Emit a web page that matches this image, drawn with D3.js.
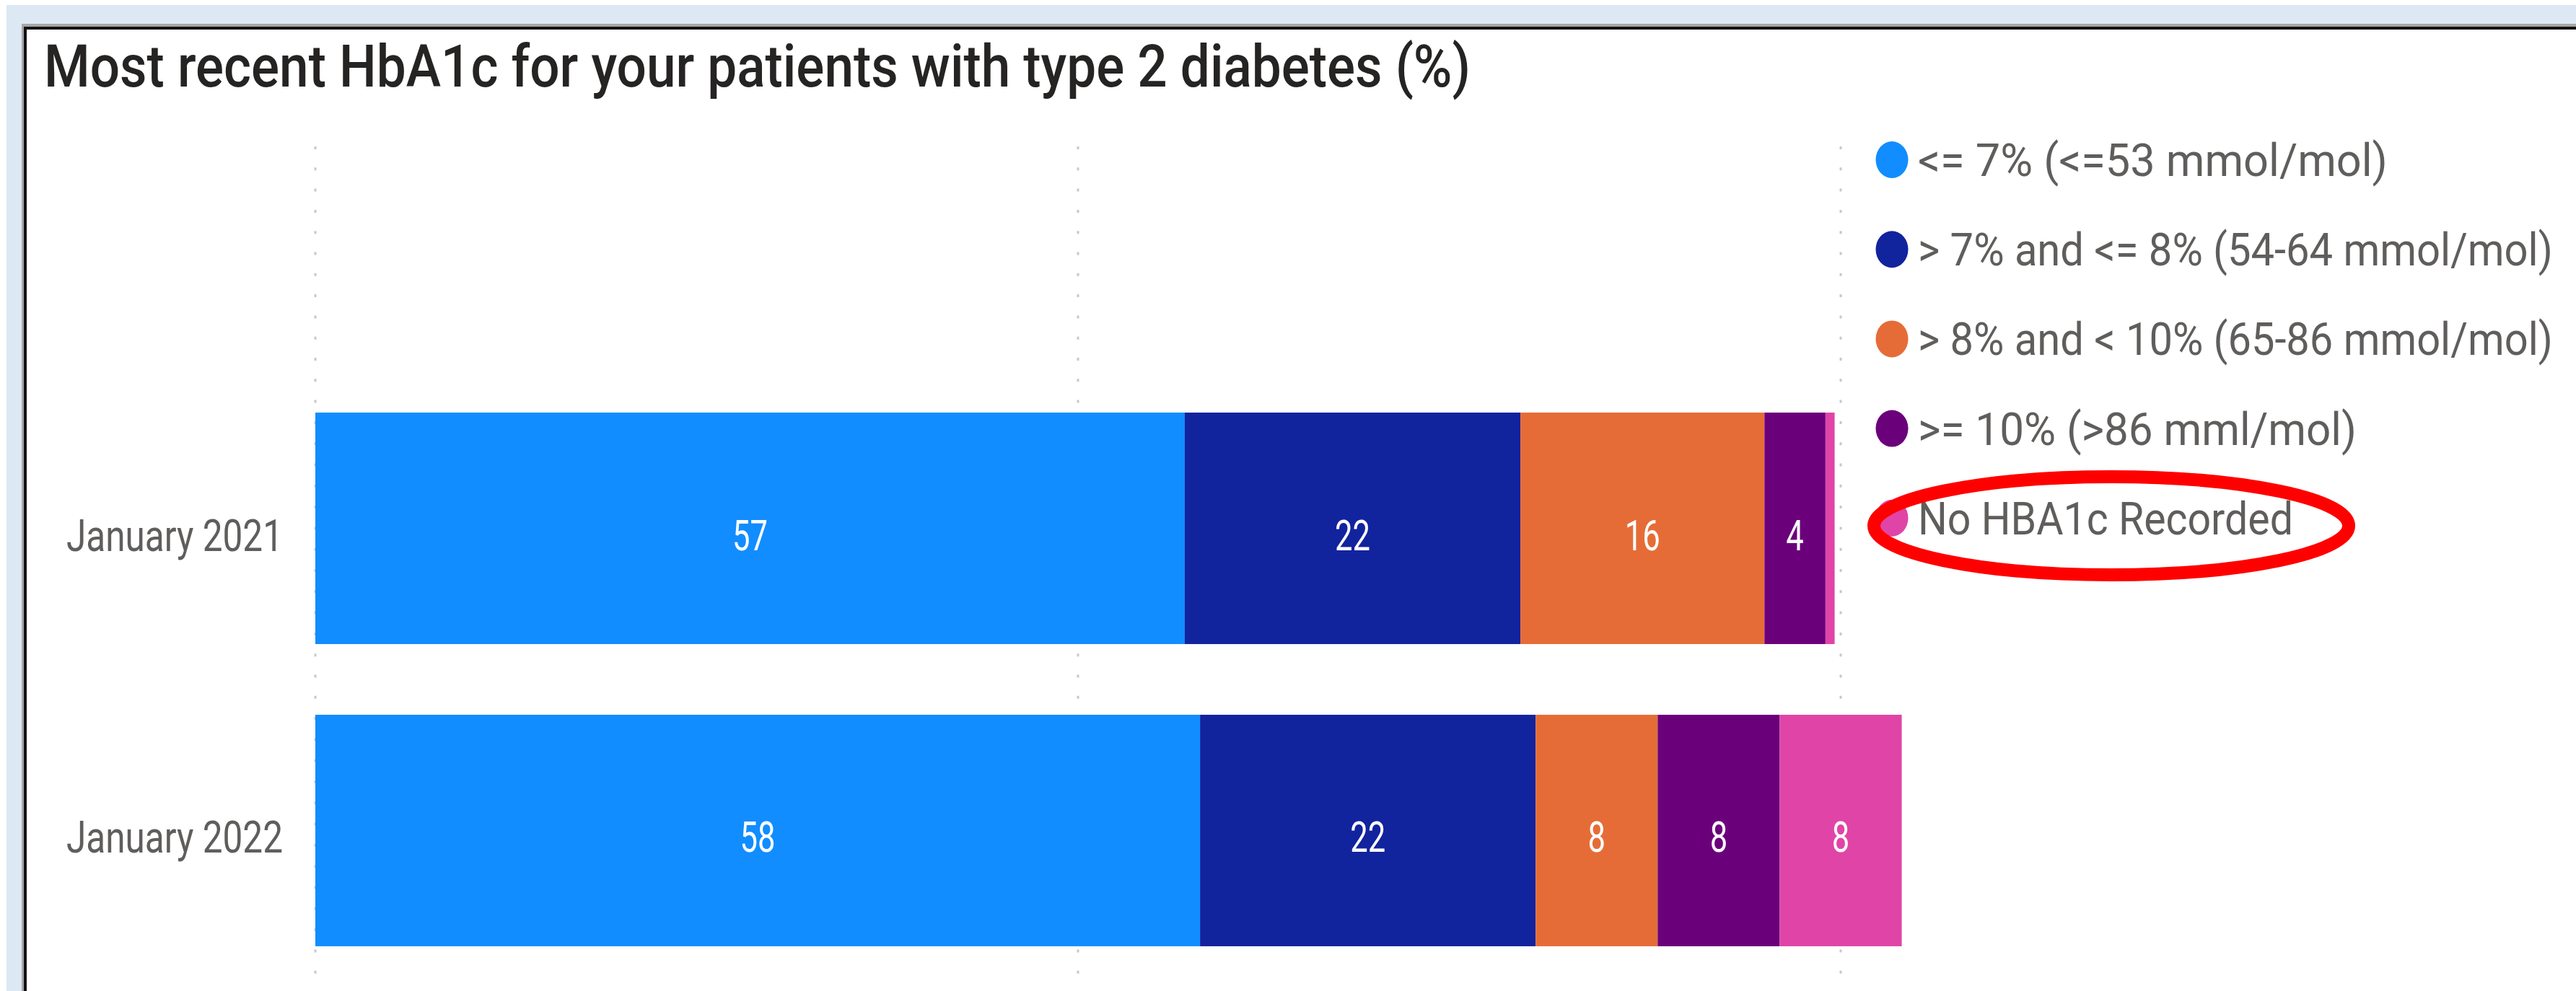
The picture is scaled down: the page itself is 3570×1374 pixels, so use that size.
<!DOCTYPE html>
<html>
<head>
<meta charset="utf-8">
<script src="https://cdn.jsdelivr.net/npm/d3@7"></script>
<style>
  html, body { margin: 0; padding: 0; background: #ffffff; }
  svg { display: block; }
  text { font-family: Roboto, "Liberation Sans", "DejaVu Sans", sans-serif; }
</style>
</head>
<body>
<svg id="chart" width="3570" height="1374"></svg>
<script>
// ---- data ----
const categories = ["January 2021", "January 2022"];
const seriesNames = [
  "<= 7% (<=53 mmol/mol)",
  "> 7% and <= 8% (54-64 mmol/mol)",
  "> 8% and < 10% (65-86 mmol/mol)",
  ">= 10% (>86 mml/mol)",
  "No HBA1c Recorded"
];
const upTo7 = [57, 58];
const from7to8 = [22, 22];
const from8to10 = [16, 8];
const atLeast10 = [4, 8];
const notRecorded = [0.6, 8];
const gridTicks = [0, 50, 100];
const titleText = "Most recent HbA1c for your patients with type 2 diabetes (%)";

const palette = ["#118DFF", "#12239E", "#E66C37", "#6B007B", "#E044A7"];
// rendered widths of the legend entries (px)
const legendWidths = [651, 880, 880, 608, 520];

// ---- table for the stack layout ----
const seriesValues = [upTo7, from7to8, from8to10, atLeast10, notRecorded];
const rows = categories.map((c, i) => {
  const r = { category: c };
  seriesNames.forEach((s, k) => { r[s] = seriesValues[k][i]; });
  return r;
});
const stacked = d3.stack().keys(seriesNames)(rows);

const svg = d3.select("#chart");
const W = 3570, H = 1374;

// ---- visual container frame ----
svg.append("rect").attr("x", 9).attr("y", 7).attr("width", W).attr("height", H).attr("fill", "#DCE8F3");
svg.append("rect").attr("x", 30).attr("y", 33).attr("width", W).attr("height", H).attr("fill", "#A6A6A6");
svg.append("rect").attr("x", 33).attr("y", 37).attr("width", W).attr("height", H).attr("fill", "#111111");
svg.append("rect").attr("x", 37).attr("y", 41).attr("width", W).attr("height", H).attr("fill", "#ffffff");

// helper: condense text horizontally by a common factor
function condense(sel, refWidth) {
  const nodes = sel.nodes();
  const factor = refWidth / nodes[0].getComputedTextLength();
  sel.each(function () {
    const w = this.getComputedTextLength();
    d3.select(this).attr("textLength", w * factor).attr("lengthAdjust", "spacingAndGlyphs");
  });
}

// ---- title ----
const title = svg.append("text")
  .attr("x", 61).attr("y", 120)
  .attr("font-size", 81)
  .attr("font-weight", 500)
  .attr("fill", "#252423")
  .text(titleText);
condense(title, 1977);

// ---- scales ----
const x = d3.scaleLinear().domain([0, 100]).range([437, 2551]);
const y = d3.scaleBand().domain(categories).range([474, 1410]).paddingInner(0.234).paddingOuter(0.234);
const color = d3.scaleOrdinal().domain(seriesNames).range(palette);

// ---- dotted gridlines ----
svg.append("g").selectAll("line")
  .data(gridTicks)
  .join("line")
  .attr("x1", d => x(d)).attr("x2", d => x(d))
  .attr("y1", 203).attr("y2", H)
  .attr("stroke", "#C8C8C8")
  .attr("stroke-width", 3)
  .attr("stroke-dasharray", "4 25.3");

// ---- stacked bars ----
const layers = svg.append("g").selectAll("g")
  .data(stacked)
  .join("g")
  .attr("fill", d => color(d.key));

layers.selectAll("rect")
  .data(d => d)
  .join("rect")
  .attr("x", d => x(d[0]))
  .attr("y", d => y(d.data.category))
  .attr("width", d => x(d[1]) - x(d[0]))
  .attr("height", y.bandwidth());

// ---- data labels ----
const labelData = [];
stacked.forEach(layer => {
  layer.forEach(seg => {
    const v = seg.data[layer.key];
    if (v >= 2) labelData.push({ v, cx: (x(seg[0]) + x(seg[1])) / 2, cat: seg.data.category });
  });
});
const labels = svg.append("g").selectAll("text")
  .data(labelData)
  .join("text")
  .attr("x", d => d.cx)
  .attr("y", d => y(d.cat) + y.bandwidth() / 2 + 30)
  .attr("text-anchor", "middle")
  .attr("font-size", 59)
  .attr("fill", "#ffffff")
  .text(d => d3.format("d")(d.v));
condense(labels, 49);

// ---- category axis ----
const yAxisG = svg.append("g")
  .attr("transform", `translate(${x(0)},0)`)
  .call(d3.axisLeft(y).tickSize(0).tickPadding(45));
yAxisG.select(".domain").remove();
const yTickText = yAxisG.selectAll("text")
  .attr("font-size", 62)
  .attr("font-family", null)
  .attr("fill", "#605E5C")
  .attr("dy", "0.5em");
condense(yTickText, 300);

// ---- legend ----
const legend = svg.append("g").selectAll("g")
  .data(seriesNames)
  .join("g")
  .attr("transform", (d, i) => `translate(2622,${221.5 + i * 124.2})`);
legend.append("ellipse")
  .attr("rx", 22.5).attr("ry", 25.5)
  .attr("fill", d => color(d));
legend.append("text")
  .attr("font-size", 63)
  .attr("fill", "#605E5C")
  .text(d => d)
  .each(function (d, i) {
    // narrow each entry to its rendered width with a horizontal scale
    const sx = legendWidths[i] / this.getComputedTextLength();
    d3.select(this).attr("transform", `translate(36,22.5) scale(${sx},1)`);
  });

// ---- red highlight ring around the last legend entry ----
svg.append("ellipse")
  .attr("cx", 2926).attr("cy", 729)
  .attr("rx", 329).attr("ry", 68)
  .attr("fill", "none")
  .attr("stroke", "#FF0000")
  .attr("stroke-width", 18);
</script>
</body>
</html>
